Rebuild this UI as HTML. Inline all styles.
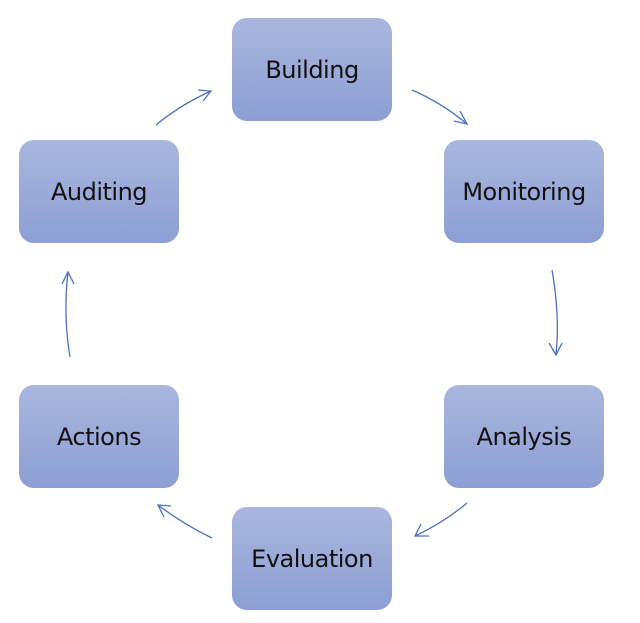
<!DOCTYPE html>
<html><head><style>
body{margin:0;width:640px;height:623px;background:#fff;position:relative;overflow:hidden;font-family:"DejaVu Sans","Liberation Sans",sans-serif}
.b{position:absolute;width:160px;height:103px;border-radius:15px;background:linear-gradient(#aab6de,#8c9ed3);display:flex;align-items:center;justify-content:center;font-size:24px;letter-spacing:-0.5px;color:#111}
svg{position:absolute;left:0;top:0}
</style></head><body>
<div class="b" style="left:232px;top:18px">Building</div>
<div class="b" style="left:444px;top:140px">Monitoring</div>
<div class="b" style="left:444px;top:385px">Analysis</div>
<div class="b" style="left:232px;top:507px">Evaluation</div>
<div class="b" style="left:19px;top:385px">Actions</div>
<div class="b" style="left:19px;top:140px">Auditing</div>
<svg width="640" height="623" fill="none" stroke="#4a72c4" stroke-width="1.3">
<path d="M156 125 Q180 105 211 91 M198 90 L211 91 L203 101"/>
<path d="M412 90 Q442 103 467 124 M460 111 L467 124 L454 121"/>
<path d="M552 270 Q560 315 556 355 M549 343 L556 355 L562 343"/>
<path d="M467 503 Q443 523 415 536 M421 524 L415 536 L429 536"/>
<path d="M212 538 Q183 524 158 505 M171 506 L158 505 L164 517"/>
<path d="M70 357 Q63 315 68 272 M62 284 L68 272 L74 284"/>
</svg>
</body></html>
